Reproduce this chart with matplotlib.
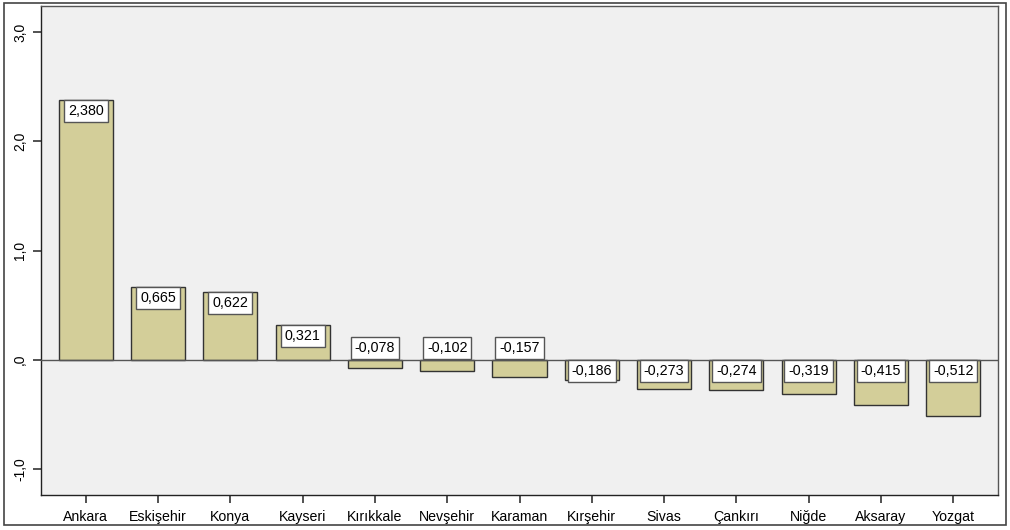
import matplotlib.pyplot as plt
from matplotlib.patches import Rectangle

plt.rcParams['font.family'] = ['Liberation Sans', 'DejaVu Sans']

iller = ['Ankara', 'Eskişehir', 'Konya', 'Kayseri', 'Kırıkkale', 'Nevşehir', 'Karaman',
         'Kırşehir', 'Sivas', 'Çankırı', 'Niğde', 'Aksaray', 'Yozgat']
skor = [2.380, 0.665, 0.622, 0.321, -0.078, -0.102, -0.157,
        -0.186, -0.273, -0.274, -0.319, -0.415, -0.512]
yticks = [-1.0, 0.0, 1.0, 2.0, 3.0]
ytick_labels = ['-1,0', ',0', '1,0', '2,0', '3,0']

fig = plt.figure(figsize=(10.1, 5.3), dpi=100)
ax = fig.add_axes([41/1010, 1 - 495/530, 957/1010, 489/530])
ax.set_facecolor('#F0F0F0')

x = list(range(len(iller)))
ax.bar(x, skor, width=0.75, color='#D3CE99', edgecolor='#333333', linewidth=1.0, zorder=2)
ax.axhline(0, color='#555555', linewidth=1.0, zorder=3)

# etiketler: kutu cubugun icinde, cok kisa negatiflerde sifirin ustunde
for i, v in enumerate(skor):
    txt = '{:.3f}'.format(v).replace('.', ',')
    if v >= 0:
        y, va, dy = v, 'top', -3
    elif abs(v) < 0.17:
        y, va, dy = 0, 'bottom', 3
    else:
        y, va, dy = 0, 'top', -3
    ax.annotate(txt, (i, y), xytext=(0, dy), textcoords='offset points',
                ha='center', va=va, fontsize=10.3, zorder=4,
                bbox=dict(boxstyle='square,pad=0.28', facecolor='white', edgecolor='#555555', linewidth=1.0))

ax.set_xlim(-0.62, 12.62)
ax.set_ylim(-1.24, 3.24)
ax.set_xticks(x)
ax.set_xticklabels(iller, fontsize=10.2)
ax.set_yticks(yticks)
ax.set_yticklabels(ytick_labels, fontsize=10, rotation=90, va='center')
ax.tick_params(axis='both', direction='out', length=6, width=1.2, color='#333333')
ax.tick_params(axis='x', pad=5)
ax.tick_params(axis='y', pad=4)
for s in ax.spines.values():
    s.set_color('#555555')
    s.set_linewidth(1.0)
ax.spines['left'].set_color('#222222')
ax.spines['bottom'].set_color('#222222')

fig.patches.append(Rectangle((4/1010, 1 - 525/530), 1002/1010, 522/530, transform=fig.transFigure,
                             fill=False, edgecolor='#444444', linewidth=1.2))

fig.savefig('out.png', dpi=100, facecolor='white')
